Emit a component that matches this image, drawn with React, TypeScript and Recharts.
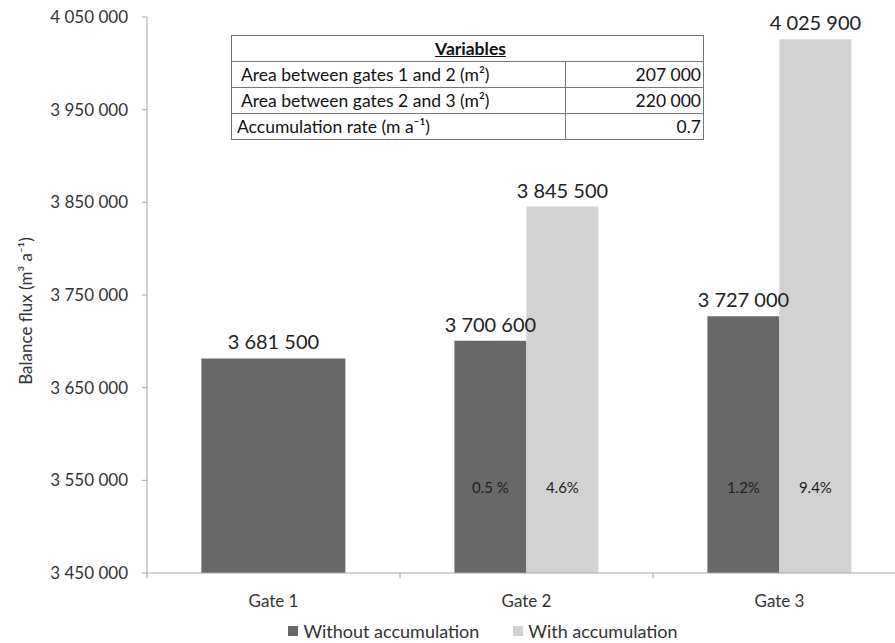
import React from "react";
import { Bar, BarChart, LabelList, Legend, XAxis, YAxis } from "recharts";

const gates = ["Gate 1", "Gate 2", "Gate 3"];
const gateOneFlux = [3681500, null, null];
const withoutAccumulation = [null, 3700600, 3727000];
const withAccumulation = [null, 3845500, 4025900];
const pctWithout = [null, "0.5 %", "1.2%"];
const pctWith = [null, "4.6%", "9.4%"];
const yTicks = [3450000, 3550000, 3650000, 3750000, 3850000, 3950000, 4050000];

const variableNames = [
  "Area between gates 1 and 2 (m²)",
  "Area between gates 2 and 3 (m²)",
  "Accumulation rate  (m a⁻¹)",
];
const variableValues = ["207 000", "220 000", "0.7"];

const DARK = "#686868";
const LIGHT = "#d2d2d2";
const AXIS = "#a8a8a8";
const TEXT = "#333";
const FONT = "Lato, 'Open Sans', sans-serif";

// plot area width / 3 categories / 2
const HALF_BAND = 759 / 6;

const data = gates.map((gate, i) => ({
  gate,
  single: gateOneFlux[i],
  without: withoutAccumulation[i],
  with: withAccumulation[i],
  pctWithout: pctWithout[i],
  pctWith: pctWith[i],
}));

const legendItems = [
  { label: "Without accumulation", color: DARK },
  { label: "With accumulation", color: LIGHT },
];

const fmt = (v: unknown) =>
  v == null || v === "" ? "" : String(v).replace(/\B(?=(\d{3})+(?!\d))/g, " ");

function GateTick(props: any) {
  const { x, y, payload, index, visibleTicksCount } = props;
  const last = index === visibleTicksCount - 1;
  return (
    <g>
      <line x1={x - HALF_BAND} x2={x - HALF_BAND} y1={y - 22} y2={y - 17} stroke={AXIS} />
      {last && <line x1={x + HALF_BAND} x2={x + HALF_BAND} y1={y - 22} y2={y - 17} stroke={AXIS} />}
      <text x={x} y={y} dy="0.71em" textAnchor="middle" fill={TEXT} fontSize={17}>
        {payload.value}
      </text>
    </g>
  );
}

function YTitle(props: any) {
  const { viewBox } = props;
  const cx = 25;
  const cy = viewBox.y + viewBox.height / 2 + 16;
  return (
    <text
      x={cx}
      y={cy}
      transform={`rotate(-90 ${cx} ${cy})`}
      textAnchor="middle"
      dominantBaseline="central"
      fill={TEXT}
      fontSize={17}
    >
      Balance flux (m³ a⁻¹)
    </text>
  );
}

function LegendContent() {
  return (
    <div
      style={{
        display: "flex",
        justifyContent: "center",
        gap: 34,
        fontSize: 18,
        color: TEXT,
        lineHeight: "20px",
        paddingLeft: 60,
      }}
    >
      {legendItems.map((it) => (
        <span key={it.label} style={{ display: "inline-flex", alignItems: "center" }}>
          <span
            style={{ width: 10, height: 10, background: it.color, marginRight: 5, display: "inline-block" }}
          />
          {it.label}
        </span>
      ))}
    </div>
  );
}

function VariablesTable() {
  const cell: React.CSSProperties = {
    border: "1px solid #777",
    height: 25,
    padding: "0 2px 0 8px",
    whiteSpace: "nowrap",
  };
  return (
    <table
      style={{
        position: "absolute",
        left: 231,
        top: 35,
        width: 473,
        borderCollapse: "collapse",
        fontSize: 17.5,
        color: "#111",
        lineHeight: "20px",
        background: "#fff",
      }}
    >
      <tbody>
        <tr>
          <td colSpan={2} style={{ ...cell, textAlign: "center", fontWeight: 700 }}>
            <span style={{ textDecoration: "underline" }}>Variables</span>
          </td>
        </tr>
        {variableNames.map((name, i) => (
          <tr key={name}>
            <td style={{ ...cell, width: 322, paddingLeft: i === 2 ? 5 : 9 }}>{name}</td>
            <td style={{ ...cell, textAlign: "right" }}>{variableValues[i]}</td>
          </tr>
        ))}
      </tbody>
    </table>
  );
}

export default function App() {
  return (
    <div
      style={{
        position: "absolute",
        left: 0,
        top: 0,
        width: 895,
        height: 643,
        overflow: "hidden",
        background: "#fff",
        fontFamily: FONT,
      }}
    >
      <BarChart
        width={910}
        height={643}
        data={data}
        margin={{ top: 17, right: 4, bottom: 2, left: 0 }}
        barCategoryGap="21.5%"
        barGap={0}
      >
        <XAxis
          dataKey="gate"
          axisLine={{ stroke: AXIS }}
          tickLine={false}
          tickSize={0}
          tickMargin={22}
          tick={<GateTick />}
          height={48}
        />
        <XAxis dataKey="gate" xAxisId="single" hide />
        <YAxis
          type="number"
          domain={[3450000, 4050000]}
          ticks={yTicks}
          allowDataOverflow
          tickFormatter={fmt}
          width={147}
          axisLine={{ stroke: AXIS }}
          tickLine={{ stroke: AXIS }}
          tickSize={5}
          tickMargin={14}
          tick={{ fill: TEXT, fontSize: 17 }}
          label={<YTitle />}
        />
        <Legend verticalAlign="bottom" content={<LegendContent />} />
        <Bar dataKey="single" xAxisId="single" fill={DARK} legendType="none" isAnimationActive={false}>
          <LabelList dataKey="single" position="top" offset={9} formatter={fmt} fill="#222" fontSize={20} />
        </Bar>
        <Bar dataKey="without" name="Without accumulation" fill={DARK} isAnimationActive={false}>
          <LabelList dataKey="without" position="top" offset={9} formatter={fmt} fill="#222" fontSize={20} />
          <LabelList dataKey="pctWithout" position="insideBottom" offset={80} fill="#222" fontSize={15} />
        </Bar>
        <Bar dataKey="with" name="With accumulation" fill={LIGHT} isAnimationActive={false}>
          <LabelList dataKey="with" position="top" offset={9} formatter={fmt} fill="#222" fontSize={20} />
          <LabelList dataKey="pctWith" position="insideBottom" offset={80} fill="#222" fontSize={15} />
        </Bar>
      </BarChart>
      <VariablesTable />
    </div>
  );
}
